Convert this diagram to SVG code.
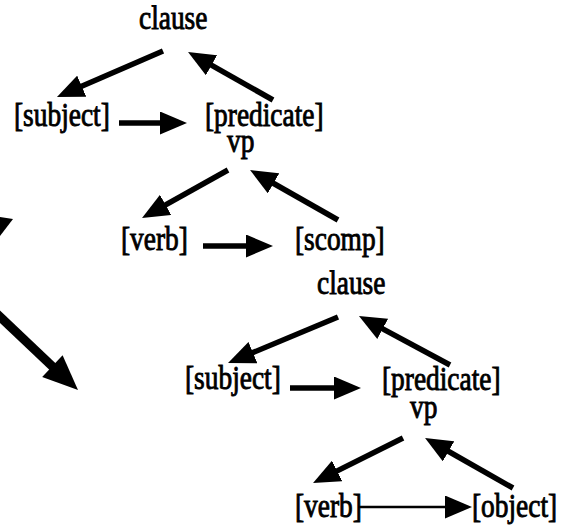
<svg xmlns="http://www.w3.org/2000/svg" width="564" height="525" viewBox="0 0 564 525">
<defs>
<style>
text{font-family:"Liberation Serif","Times New Roman",serif;font-size:33px;fill:#000;stroke:#000;stroke-width:0.9}
.c line{stroke:#000;stroke-width:5.5;fill:none}
.c line.t{stroke-width:2.5}
</style>
<marker id="ah" markerUnits="userSpaceOnUse" markerWidth="27" markerHeight="23" refX="19" refY="11.5" orient="auto">
<path d="M0,0 L27,11.5 L0,23 z" fill="#000"/>
</marker>
</defs>
<rect width="564" height="525" fill="#fff"/>
<g id="connectors" class="c">
<line x1="163" y1="51" x2="64.3" y2="93.8" marker-end="url(#ah)"/>
<line x1="273" y1="100" x2="195" y2="55.9" marker-end="url(#ah)"/>
<line x1="119" y1="123" x2="179" y2="123" marker-end="url(#ah)"/>
<line x1="228" y1="170" x2="149" y2="214.1" marker-end="url(#ah)"/>
<line x1="338" y1="220" x2="257" y2="174" marker-end="url(#ah)"/>
<line x1="203" y1="246" x2="265" y2="246" marker-end="url(#ah)"/>
<line x1="338" y1="317" x2="235.4" y2="359.9" marker-end="url(#ah)"/>
<line x1="450" y1="365" x2="366" y2="319.8" marker-end="url(#ah)"/>
<line x1="290" y1="388" x2="353" y2="388" marker-end="url(#ah)"/>
<line x1="403" y1="438" x2="320.2" y2="479.4" marker-end="url(#ah)"/>
<line x1="513" y1="488" x2="432" y2="442" marker-end="url(#ah)"/>
<line class="t" x1="358" y1="507" x2="464" y2="507" marker-end="url(#ah)"/>
<line x1="-5" y1="312" x2="53" y2="367" style="stroke-width:9"/>
<polygon points="78,390 42.2,377 62.6,355.2" fill="#000"/>
<polygon points="0,217 13,219 0,236" fill="#000"/>
</g>
<g id="clause1"><text transform="translate(139,29) scale(0.83,1)">clause</text></g>
<g id="subject1"><text transform="translate(14,126) scale(0.83,1)">[subject]</text></g>
<g id="predicate1"><text transform="translate(205,126) scale(0.83,1)">[predicate]</text></g>
<g id="vp1"><text transform="translate(227,152) scale(0.83,1)">vp</text></g>
<g id="verb1"><text transform="translate(121,250) scale(0.83,1)">[verb]</text></g>
<g id="scomp"><text transform="translate(295,250) scale(0.83,1)">[scomp]</text></g>
<g id="clause2"><text transform="translate(317,294) scale(0.83,1)">clause</text></g>
<g id="subject2"><text transform="translate(185,389) scale(0.83,1)">[subject]</text></g>
<g id="predicate2"><text transform="translate(382,390) scale(0.83,1)">[predicate]</text></g>
<g id="vp2"><text transform="translate(410,418) scale(0.83,1)">vp</text></g>
<g id="verb2"><text transform="translate(295,517) scale(0.83,1)">[verb]</text></g>
<g id="object"><text transform="translate(472,517) scale(0.83,1)">[object]</text></g>
</svg>
